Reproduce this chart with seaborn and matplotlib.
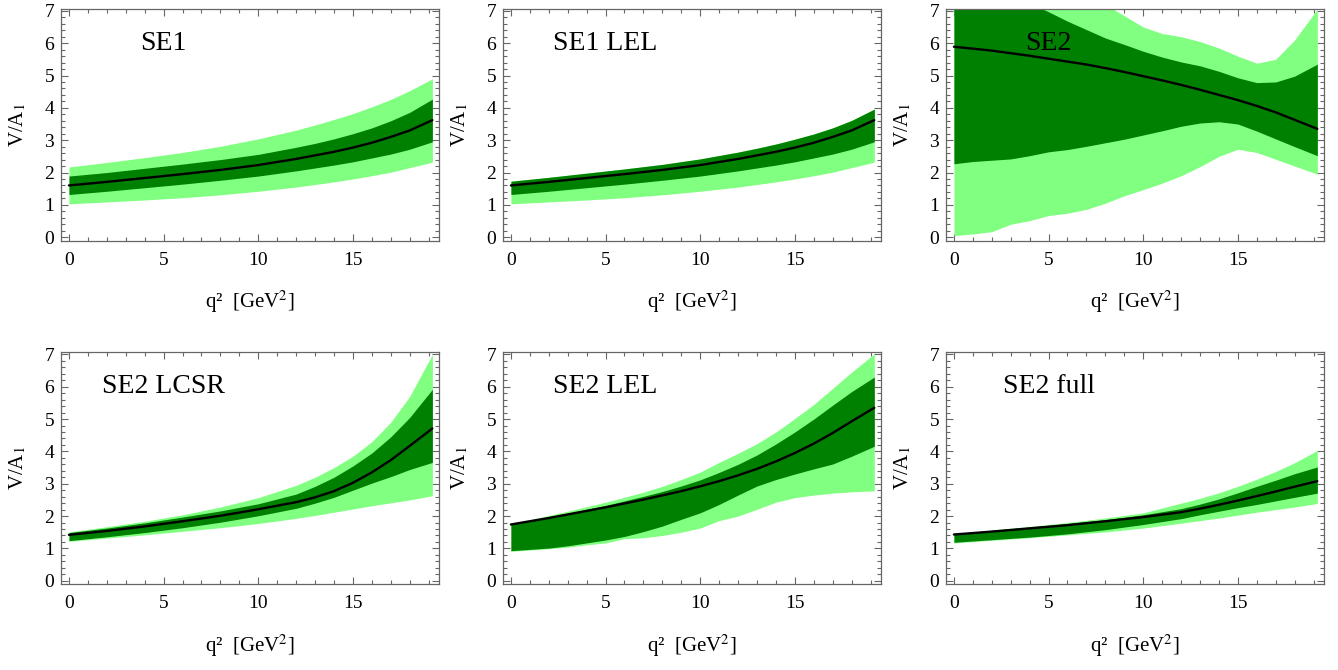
import matplotlib
matplotlib.use("Agg")
import matplotlib.pyplot as plt
from matplotlib.ticker import MultipleLocator
import seaborn as sns

# q^2 grids (GeV^2)
q_smooth = [0, 2, 4, 6, 8, 10, 12, 13, 14, 15, 16, 17, 18, 19.2]
q_fine = [0, 1, 2, 3, 4, 5, 6, 7, 8, 9, 10, 11, 12, 13, 14, 15, 16, 17, 18, 19.2]

# SE1
se1_mid = [1.60, 1.71, 1.83, 1.95, 2.08, 2.23, 2.42, 2.53, 2.64, 2.77, 2.92, 3.10, 3.30, 3.62]
se1_dark_hi = [1.89, 2.00, 2.13, 2.26, 2.40, 2.56, 2.78, 2.90, 3.04, 3.20, 3.38, 3.60, 3.86, 4.27]
se1_dark_lo = [1.32, 1.42, 1.53, 1.64, 1.76, 1.89, 2.05, 2.14, 2.23, 2.33, 2.45, 2.57, 2.72, 2.95]
se1_light_hi = [2.17, 2.31, 2.46, 2.62, 2.81, 3.04, 3.31, 3.47, 3.64, 3.82, 4.03, 4.26, 4.53, 4.90]
se1_light_lo = [1.03, 1.09, 1.15, 1.22, 1.31, 1.42, 1.55, 1.63, 1.71, 1.80, 1.90, 2.01, 2.15, 2.32]

# SE1 LEL
se1lel_mid = [1.60, 1.71, 1.83, 1.95, 2.08, 2.23, 2.42, 2.53, 2.64, 2.77, 2.92, 3.10, 3.30, 3.62]
se1lel_dark_hi = [1.73, 1.85, 1.98, 2.11, 2.25, 2.42, 2.63, 2.75, 2.88, 3.03, 3.19, 3.38, 3.61, 3.96]
se1lel_dark_lo = [1.32, 1.42, 1.53, 1.64, 1.76, 1.89, 2.05, 2.14, 2.23, 2.33, 2.45, 2.57, 2.72, 2.95]
se1lel_light_hi = [1.73, 1.85, 1.98, 2.11, 2.25, 2.42, 2.63, 2.75, 2.88, 3.03, 3.19, 3.38, 3.61, 3.96]
se1lel_light_lo = [1.03, 1.09, 1.15, 1.22, 1.31, 1.42, 1.55, 1.63, 1.71, 1.80, 1.90, 2.01, 2.15, 2.32]

# SE2
se2_mid = [5.89, 5.83, 5.77, 5.69, 5.61, 5.52, 5.43, 5.34, 5.23, 5.11,
           4.98, 4.85, 4.71, 4.56, 4.40, 4.24, 4.06, 3.86, 3.63, 3.35]
se2_dark_hi = [8.3, 8.0, 7.75, 7.5, 7.25, 6.97, 6.68, 6.42, 6.16, 5.96,
               5.75, 5.57, 5.42, 5.30, 5.13, 4.93, 4.78, 4.80, 4.98, 5.35]
se2_dark_lo = [2.27, 2.34, 2.38, 2.42, 2.52, 2.64, 2.71, 2.81, 2.92, 3.03,
               3.16, 3.29, 3.43, 3.53, 3.57, 3.50, 3.28, 3.04, 2.80, 2.52]
se2_light_hi = [9.9, 9.6, 9.2, 8.9, 8.6, 8.3, 8.0, 7.7, 7.2, 6.85,
                6.5, 6.3, 6.2, 6.05, 5.85, 5.6, 5.38, 5.50, 6.10, 7.05]
se2_light_lo = [0.05, 0.10, 0.17, 0.40, 0.51, 0.67, 0.74, 0.86, 1.05, 1.28,
                1.47, 1.67, 1.90, 2.18, 2.50, 2.72, 2.62, 2.41, 2.20, 1.95]

# SE2 LCSR
lcsr_mid = [1.42, 1.54, 1.68, 1.84, 2.01, 2.21, 2.43, 2.58, 2.77, 3.03, 3.35, 3.73, 4.17, 4.71]
lcsr_dark_hi = [1.49, 1.63, 1.79, 1.97, 2.16, 2.38, 2.68, 2.92, 3.20, 3.55, 3.95, 4.45, 5.05, 5.92]
lcsr_dark_lo = [1.24, 1.36, 1.49, 1.64, 1.81, 2.01, 2.24, 2.40, 2.58, 2.80, 3.02, 3.22, 3.44, 3.66]
lcsr_light_hi = [1.51, 1.67, 1.84, 2.04, 2.28, 2.57, 2.95, 3.20, 3.50, 3.85, 4.30, 4.90, 5.70, 7.00]
lcsr_light_lo = [1.22, 1.32, 1.42, 1.53, 1.64, 1.77, 1.93, 2.02, 2.12, 2.22, 2.32, 2.41, 2.50, 2.63]

# SE2 LEL
se2lel_mid = [1.74, 1.84, 1.94, 2.05, 2.16, 2.27, 2.39, 2.51, 2.64, 2.77,
              2.92, 3.08, 3.26, 3.46, 3.69, 3.95, 4.24, 4.57, 4.93, 5.35]
se2lel_dark_hi = [1.76, 1.87, 1.98, 2.09, 2.21, 2.33, 2.47, 2.61, 2.76, 2.93,
                  3.12, 3.35, 3.60, 3.89, 4.23, 4.60, 5.00, 5.43, 5.85, 6.30]
se2lel_dark_lo = [0.93, 0.97, 1.01, 1.08, 1.17, 1.26, 1.37, 1.52, 1.69, 1.90,
                  2.10, 2.36, 2.65, 2.93, 3.13, 3.30, 3.46, 3.61, 3.85, 4.16]
se2lel_light_hi = [1.77, 1.89, 2.02, 2.15, 2.29, 2.43, 2.58, 2.74, 2.92, 3.13,
                   3.36, 3.66, 3.94, 4.24, 4.60, 5.02, 5.45, 5.95, 6.45, 7.02]
se2lel_light_lo = [0.91, 0.95, 0.99, 1.04, 1.11, 1.17, 1.30, 1.33, 1.40, 1.50,
                   1.63, 1.86, 2.00, 2.21, 2.43, 2.57, 2.65, 2.71, 2.75, 2.78]

# SE2 full
full_mid = [1.43, 1.52, 1.62, 1.72, 1.84, 1.97, 2.12, 2.23, 2.35, 2.48, 2.62, 2.76, 2.91, 3.08]
full_dark_hi = [1.45, 1.56, 1.66, 1.77, 1.89, 2.04, 2.23, 2.37, 2.53, 2.72, 2.92, 3.11, 3.31, 3.52]
full_dark_lo = [1.19, 1.27, 1.35, 1.45, 1.58, 1.74, 1.92, 2.04, 2.15, 2.26, 2.36, 2.47, 2.58, 2.71]
full_light_hi = [1.45, 1.57, 1.68, 1.80, 1.94, 2.10, 2.40, 2.55, 2.72, 2.92, 3.14, 3.38, 3.65, 4.03]
full_light_lo = [1.17, 1.25, 1.33, 1.42, 1.51, 1.63, 1.78, 1.86, 1.94, 2.03, 2.12, 2.20, 2.28, 2.39]

panels = [
    ("SE1", q_smooth, se1_mid, se1_dark_lo, se1_dark_hi, se1_light_lo, se1_light_hi),
    ("SE1 LEL", q_smooth, se1lel_mid, se1lel_dark_lo, se1lel_dark_hi, se1lel_light_lo, se1lel_light_hi),
    ("SE2", q_fine, se2_mid, se2_dark_lo, se2_dark_hi, se2_light_lo, se2_light_hi),
    ("SE2 LCSR", q_smooth, lcsr_mid, lcsr_dark_lo, lcsr_dark_hi, lcsr_light_lo, lcsr_light_hi),
    ("SE2 LEL", q_fine, se2lel_mid, se2lel_dark_lo, se2lel_dark_hi, se2lel_light_lo, se2lel_light_hi),
    ("SE2 full", q_smooth, full_mid, full_dark_lo, full_dark_hi, full_light_lo, full_light_hi),
]

sns.set_theme(style="ticks")
plt.rcParams["font.family"] = ["Liberation Serif", "DejaVu Serif"]
plt.rcParams["mathtext.fontset"] = "stix"
plt.rcParams["text.color"] = "black"
plt.rcParams["axes.labelcolor"] = "black"

LIGHT = "#80ff80"
DARK = "#008000"
FRAME = "#666666"

fig = plt.figure(figsize=(13.38, 6.70), dpi=100)
lefts = [0.0456, 0.3759, 0.7070]
bottoms = [0.6407, 0.1279]
w, h = 0.2825, 0.3465

for i, (name, q, mid, dlo, dhi, llo, lhi) in enumerate(panels):
    ax = fig.add_axes([lefts[i % 3], bottoms[i // 3], w, h])
    ax.fill_between(q, llo, lhi, color=LIGHT, lw=0)
    ax.fill_between(q, dlo, dhi, color=DARK, lw=0)
    sns.lineplot(x=q, y=mid, ax=ax, color="black", lw=1.7)
    ax.text(5, 6, name, ha="center", va="center", fontsize=20, color="black")

    ax.set_xlim(-0.42, 19.55)
    ax.set_ylim(-0.11, 7.07)
    ax.set_xticks([0, 5, 10, 15])
    ax.xaxis.set_minor_locator(MultipleLocator(1))
    ax.set_yticks(range(8))
    ax.yaxis.set_minor_locator(MultipleLocator(0.2))
    ax.tick_params(which="both", direction="in", top=True, right=True,
                   color=FRAME, width=0.8, labelsize=14, labelcolor="black")
    ax.tick_params(which="major", length=5)
    ax.tick_params(which="minor", length=3)
    ax.tick_params(axis="x", pad=8)
    ax.tick_params(axis="y", pad=5)
    for s in ax.spines.values():
        s.set_color(FRAME)
        s.set_linewidth(0.9)

    ax.set_xlabel("q\u00b2  [GeV$^2$]", fontsize=15, va="center")
    ax.xaxis.set_label_coords(0.5, -61 / 232)
    ax.set_ylabel("V/A$_1$", fontsize=15, va="center")
    ax.yaxis.set_label_coords(-43 / 378, 0.5)

fig.savefig("out.png", dpi=100)
